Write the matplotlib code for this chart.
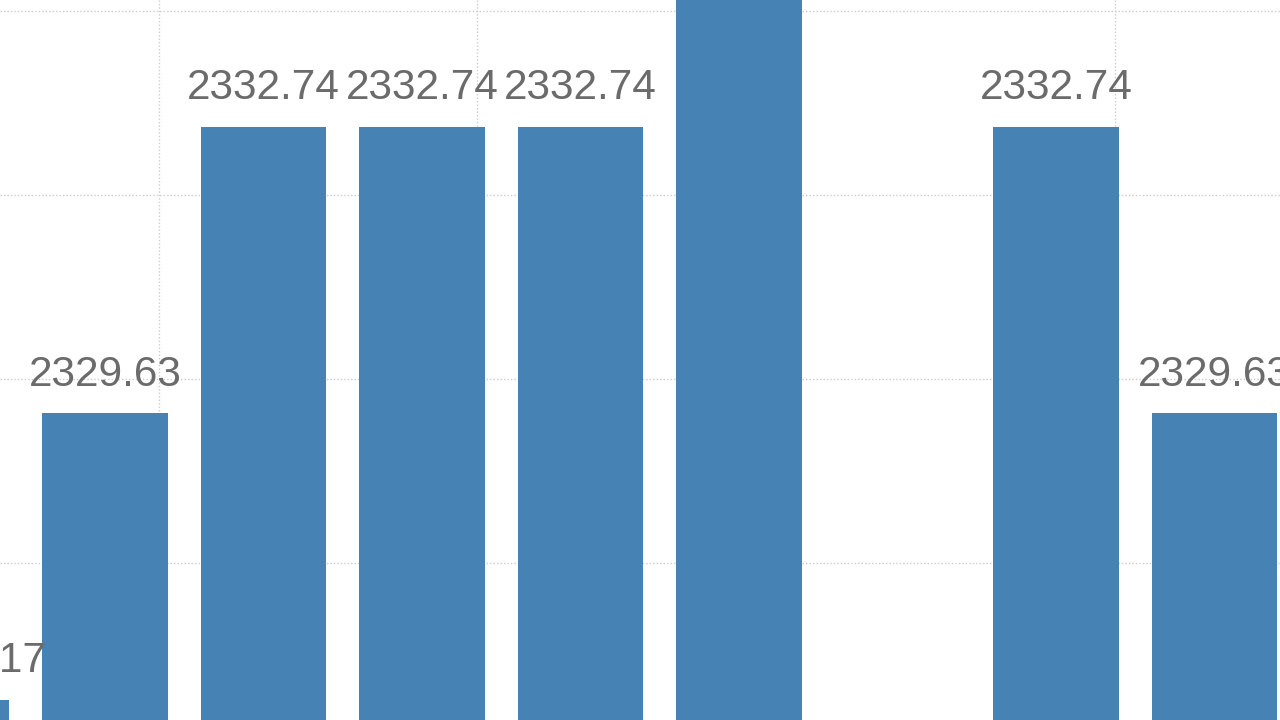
import matplotlib
matplotlib.use('Agg')
from matplotlib import pyplot as plt

# bar values, left to right (first and last bars are cut by the frame)
values = [2326.5217, 2329.63, 2332.74, 2332.74, 2332.74, 2335.5, 2324.0, 2332.74, 2329.63]
positions = list(range(len(values)))
grid_x = [1.34, 3.35, 5.36, 7.37]
grid_y = [2328, 2330, 2332, 2334]
y_lo, y_hi = 2326.30, 2334.12

fig = plt.figure(figsize=(12.8, 7.2), dpi=100)
ax = fig.add_axes([0, 0, 1, 1])

ax.bar(positions, values, width=0.79, color='#4682b4', zorder=2)

for x, v in zip(positions, values):
    # labels of bars whose top is out of view are not shown in the frame
    if not (y_lo <= v <= y_hi):
        continue
    ax.annotate(f'{v:.2f}' if round(v, 2) == v else str(v), (x, v),
                xytext=(0, 20), textcoords='offset points',
                ha='center', va='baseline', fontsize=30.5,
                family='Liberation Sans', color='#6b6b6b', zorder=3,
                annotation_clip=False)

ax.set_xlim(0.3375, 8.413)
ax.set_ylim(y_lo, y_hi)
ax.set_xticks(grid_x)
ax.set_yticks(grid_y)
ax.grid(True, color='#cccccc', linestyle=(0, (1, 1.5)), linewidth=1, zorder=0)
ax.set_axisbelow(True)
ax.tick_params(length=0, labelbottom=False, labelleft=False)
for s in ax.spines.values():
    s.set_visible(False)

fig.savefig('out.png', dpi=100)
